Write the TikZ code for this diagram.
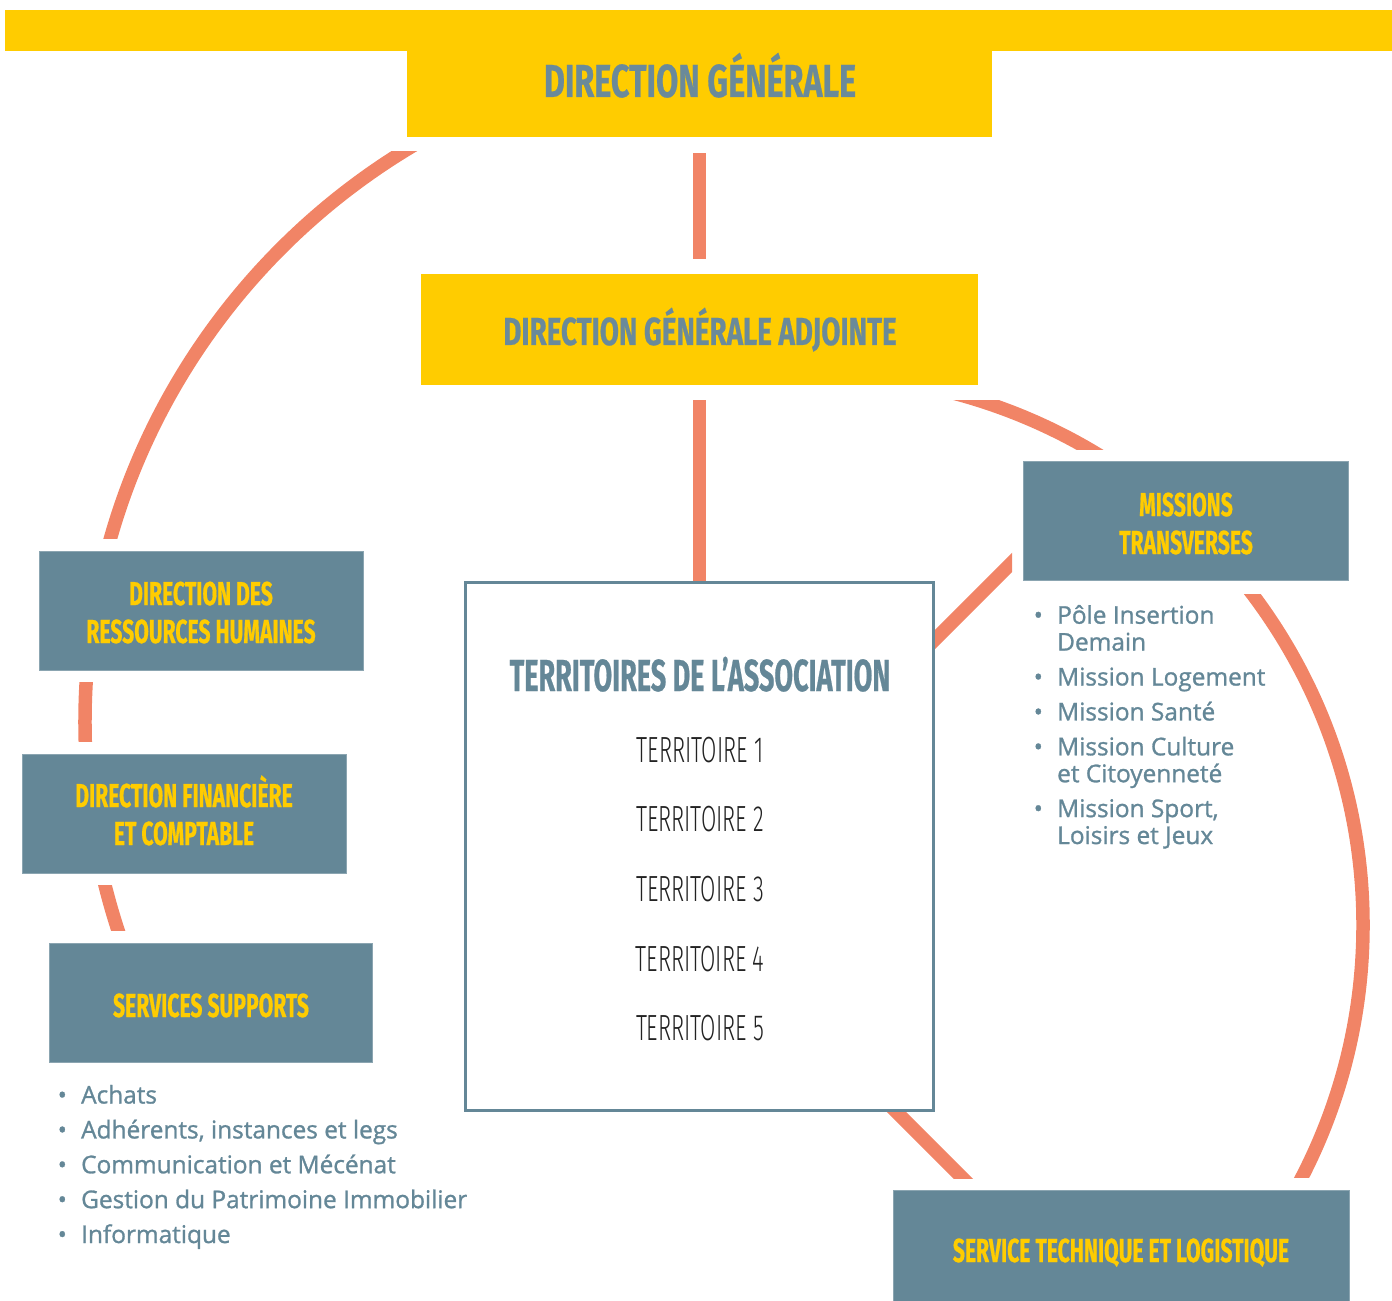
\documentclass[tikz,border=0pt]{standalone}
\usepackage{fontspec}
\setmainfont{Open Sans}
\newfontfamily\bebas{Fira Sans}[FakeStretch=0.635,FakeBold=0.5]
\newfontfamily\bebaslight{Fira Sans Light}[FakeStretch=0.61]
\newfontfamily\listfont{Open Sans}[FakeBold=1.1]
\pgfdeclarelayer{background}
\pgfsetlayers{background,main}
\definecolor{yel}{HTML}{FFCC00}
\definecolor{slate}{HTML}{648797}
\definecolor{orng}{HTML}{F18466}
\definecolor{dgtext}{HTML}{6A8A9A}
\definecolor{darktxt}{HTML}{222222}
\begin{document}
\begin{tikzpicture}[x=1bp,y=-1bp,
  conn/.style={draw=orng, line width=13.5bp},
  yelbox/.style={fill=yel, draw=none, inner sep=0pt},
  slatebox/.style={fill=slate, draw=slate!75!white, line width=0.8bp, inner sep=0pt},
  terrbox/.style={fill=white, draw=slate, line width=3bp, inner sep=0pt},
  boxlbl/.style={anchor=base, inner sep=0pt, align=center, text=yel,
    font=\bebas\bfseries\fontsize{33.4}{38}\selectfont},
  toplbl/.style={anchor=base, inner sep=0pt, text=dgtext},
  terrlbl/.style={anchor=base, inner sep=0pt, text=darktxt,
    font=\bebaslight\fontsize{36.5}{40}\selectfont},
  listtxt/.style={anchor=base west, inner sep=0pt, align=left, text=slate}
]
\useasboundingbox (0,0) rectangle (1392,1301);

% ---------- boxes ----------
\node[yelbox, minimum width=1387bp, minimum height=41bp] (bar) at (698.5,30.5) {};
\node[yelbox, minimum width=585bp, minimum height=89bp] (dg) at (699.5,92.5) {};
\node[yelbox, minimum width=557bp, minimum height=111bp] (dga) at (699.5,329.5) {};
\node[terrbox, minimum width=468bp, minimum height=528bp] (terr) at (699.5,846.5) {};
\node[slatebox, minimum width=324bp, minimum height=119bp] (drh) at (201,610.5) {};
\node[slatebox, minimum width=324bp, minimum height=119bp] (dfc) at (184,813.5) {};
\node[slatebox, minimum width=323bp, minimum height=119bp] (ss) at (210.5,1002.5) {};
\node[slatebox, minimum width=325bp, minimum height=119bp] (mt) at (1185.5,520.5) {};
\node[slatebox, minimum width=456bp, minimum height=111bp] (stl) at (1121,1245.5) {};

% ---------- labels (base = last line baseline) ----------
\node[toplbl, font=\bebas\bfseries\fontsize{46.4}{50}\selectfont] (dgT) at (700,97) {\scalebox{1.1}[1]{DIRECTION GÉNÉRALE}};
\node[toplbl, font=\bebas\bfseries\fontsize{39.2}{44}\selectfont] (dgaT) at (700,345) {\scalebox{1.12}[1]{DIRECTION GÉNÉRALE ADJOINTE}};
\node[boxlbl] (drhT) at (201,643) {DIRECTION DES\\RESSOURCES HUMAINES};
\node[boxlbl] (dfcT) at (184,845) {DIRECTION FINANCIÈRE\\ET COMPTABLE};
\node[boxlbl] (ssT) at (211,1017) {SERVICES SUPPORTS};
\node[boxlbl] (mtT) at (1186,554) {MISSIONS\\TRANSVERSES};
\node[boxlbl] (stlT) at (1121,1262) {SERVICE TECHNIQUE ET LOGISTIQUE};

\node[toplbl, text=slate, font=\bebas\bfseries\fontsize{45}{50}\selectfont] (terrT) at (700,691) {\scalebox{0.95}[1]{TERRITOIRES DE L’ASSOCIATION}};
\node[terrlbl] (t1) at (700,762) {TERRITOIRE 1};
\node[terrlbl] (t2) at (700,831) {TERRITOIRE 2};
\node[terrlbl] (t3) at (700,901) {TERRITOIRE 3};
\node[terrlbl] (t4) at (700,971) {TERRITOIRE 4};
\node[terrlbl] (t5) at (700,1040) {TERRITOIRE 5};

% ---------- lists ----------
\node[listtxt, font=\listfont\fontsize{24.5}{35}\selectfont] (sslist) at (57.5,1243) {%
  \makebox[23.5bp][l]{•}Achats\\
  \makebox[23.5bp][l]{•}Adhérents, instances et legs\\
  \makebox[23.5bp][l]{•}Communication et Mécénat\\
  \makebox[23.5bp][l]{•}Gestion du Patrimoine Immobilier\\
  \makebox[23.5bp][l]{•}Informatique};
\node[listtxt, font=\listfont\fontsize{24.5}{27}\selectfont] (mtlist) at (1033.5,844) {%
  \makebox[23.5bp][l]{•}Pôle Insertion\\
  \hspace*{23.5bp}Demain\\[8bp]
  \makebox[23.5bp][l]{•}Mission Logement\\[8bp]
  \makebox[23.5bp][l]{•}Mission Santé\\[8bp]
  \makebox[23.5bp][l]{•}Mission Culture\\
  \hspace*{23.5bp}et Citoyenneté\\[8bp]
  \makebox[23.5bp][l]{•}Mission Sport,\\
  \hspace*{23.5bp}Loisirs et Jeux};

% ---------- connectors ----------
\begin{pgfonlayer}{background}
  \draw[conn] ([yshift=-16bp]dg.south) -- ([yshift=15bp]dga.north);
  \draw[conn] ([yshift=-15bp]dga.south) -- (terr.north);
  % left ring (centre 755,722)
  \coordinate (lc) at (755,722);
  \begin{scope}
    \clip (0,152) rectangle (700,538);
    \draw[conn] (lc) circle[radius=670bp];
  \end{scope}
  \begin{scope}
    \clip (0,682) rectangle (400,741);
    \draw[conn] (lc) circle[radius=670bp];
  \end{scope}
  \begin{scope}
    \clip (0,885) rectangle (400,930);
    \draw[conn] (lc) circle[radius=670bp];
  \end{scope}
  % right ring (centre 813,925)
  \coordinate (rc) at (813,925);
  \begin{scope}
    \clip (900,400) rectangle (1200,449);
    \draw[conn] (rc) circle[radius=550bp];
  \end{scope}
  \begin{scope}
    \clip (1100,594) rectangle (1392,1177);
    \draw[conn] (rc) circle[radius=550bp];
  \end{scope}
  % diagonals
  \coordinate (d1a) at (900,674.5);
  \coordinate (d1b) at (1030,544.5);
  \begin{scope}
    \clip (0,0) rectangle (1012,1301);
    \draw[conn] (d1a) -- (d1b);
  \end{scope}
  \coordinate (d2a) at (880,1095.5);
  \coordinate (d2b) at (985,1200.5);
  \begin{scope}
    \clip (0,0) rectangle (1392,1178);
    \draw[conn] (d2a) -- (d2b);
  \end{scope}
\end{pgfonlayer}
\end{tikzpicture}
\end{document}
